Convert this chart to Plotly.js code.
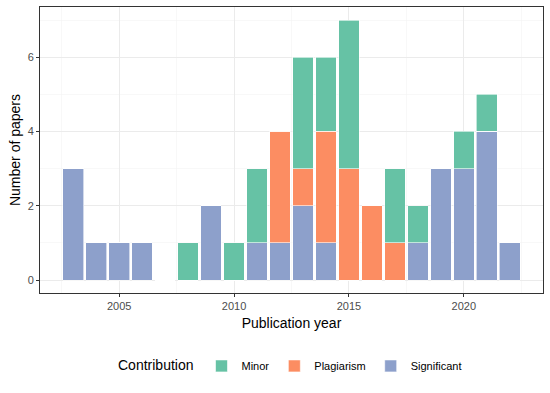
<!DOCTYPE html>
<html lang="en">
<head>
    <meta charset="UTF-8">
    <title>Papers by publication year</title>
    <script src='https://cdn.plot.ly/plotly-3.0.0.min.js'></script>
    <style>
        html, body { margin: 0; padding: 0; background: white; }
        #plot { width: 550px; height: 393px; }
    </style>
</head>
<body>
    <div id="plot"></div>

    <script>
        // counts per year
        const years       = [2003, 2004, 2005, 2006, 2007, 2008, 2009, 2010, 2011, 2012, 2013, 2014, 2015, 2016, 2017, 2018, 2019, 2020, 2021, 2022];
        const significant = [3, 1, 1, 1, 0, 0, 2, 0, 1, 1, 2, 1, 0, 0, 0, 1, 3, 3, 4, 1];
        const plagiarism  = [0, 0, 0, 0, 0, 0, 0, 0, 0, 3, 1, 3, 3, 2, 1, 0, 0, 0, 0, 0];
        const minor       = [0, 0, 0, 0, 0, 1, 0, 1, 2, 0, 3, 2, 4, 0, 2, 1, 0, 1, 1, 0];

        const xTicks = [2005, 2010, 2015, 2020];
        const yTicks = [0, 2, 4, 6];

        function barTrace(name, vals, color) {
            return {
                x: years,
                y: vals,
                type: 'bar',
                name: name,
                width: 0.9,
                marker: { color: color, line: { color: 'white', width: 0.6 } },
                hoverinfo: 'x+y+name'
            };
        }

        // bottom to top: Significant, Plagiarism, Minor (legend shown reversed)
        const traces = [
            barTrace('Significant', significant, '#8DA0CB'),
            barTrace('Plagiarism', plagiarism, '#FC8D62'),
            barTrace('Minor', minor, '#66C2A5')
        ];

        const axisCommon = {
            showline: true,
            mirror: true,
            linecolor: '#333333',
            linewidth: 1,
            ticks: 'outside',
            ticklen: 3,
            tickcolor: '#333333',
            tickfont: { size: 11, color: '#4D4D4D' },
            showgrid: true,
            gridcolor: '#EBEBEB',
            gridwidth: 1,
            zeroline: false
        };

        const layout = {
            width: 550,
            height: 393,
            margin: { l: 40, r: 7, t: 7, b: 100 },
            paper_bgcolor: 'white',
            plot_bgcolor: 'white',
            font: { family: 'Liberation Sans, Arial, sans-serif', color: '#000000' },
            barmode: 'stack',
            xaxis: Object.assign({}, axisCommon, {
                range: [2001.555, 2023.445],
                tickvals: xTicks,
                ticktext: xTicks.map(String),
                minor: { dtick: 2.5, tick0: 2002.5, showgrid: true, gridcolor: '#F3F3F3', gridwidth: 0.6, ticks: '' },
                title: { text: 'Publication year', font: { size: 14 }, standoff: 6 }
            }),
            yaxis: Object.assign({}, axisCommon, {
                range: [-0.35, 7.35],
                tickvals: yTicks,
                minor: { dtick: 1, tick0: 0, showgrid: true, gridcolor: '#F3F3F3', gridwidth: 0.6, ticks: '' },
                title: { text: 'Number of papers', font: { size: 14 }, standoff: 3 }
            }),
            showlegend: true,
            legend: {
                orientation: 'h',
                traceorder: 'reversed',
                x: 0.5,
                xanchor: 'center',
                y: -0.255,
                yanchor: 'middle',
                font: { size: 11 },
                title: { text: 'Contribution', side: 'left', font: { size: 14 } }
            }
        };

        Plotly.newPlot('plot', traces, layout, { displayModeBar: false, staticPlot: true });
    </script>
</body>
</html>
